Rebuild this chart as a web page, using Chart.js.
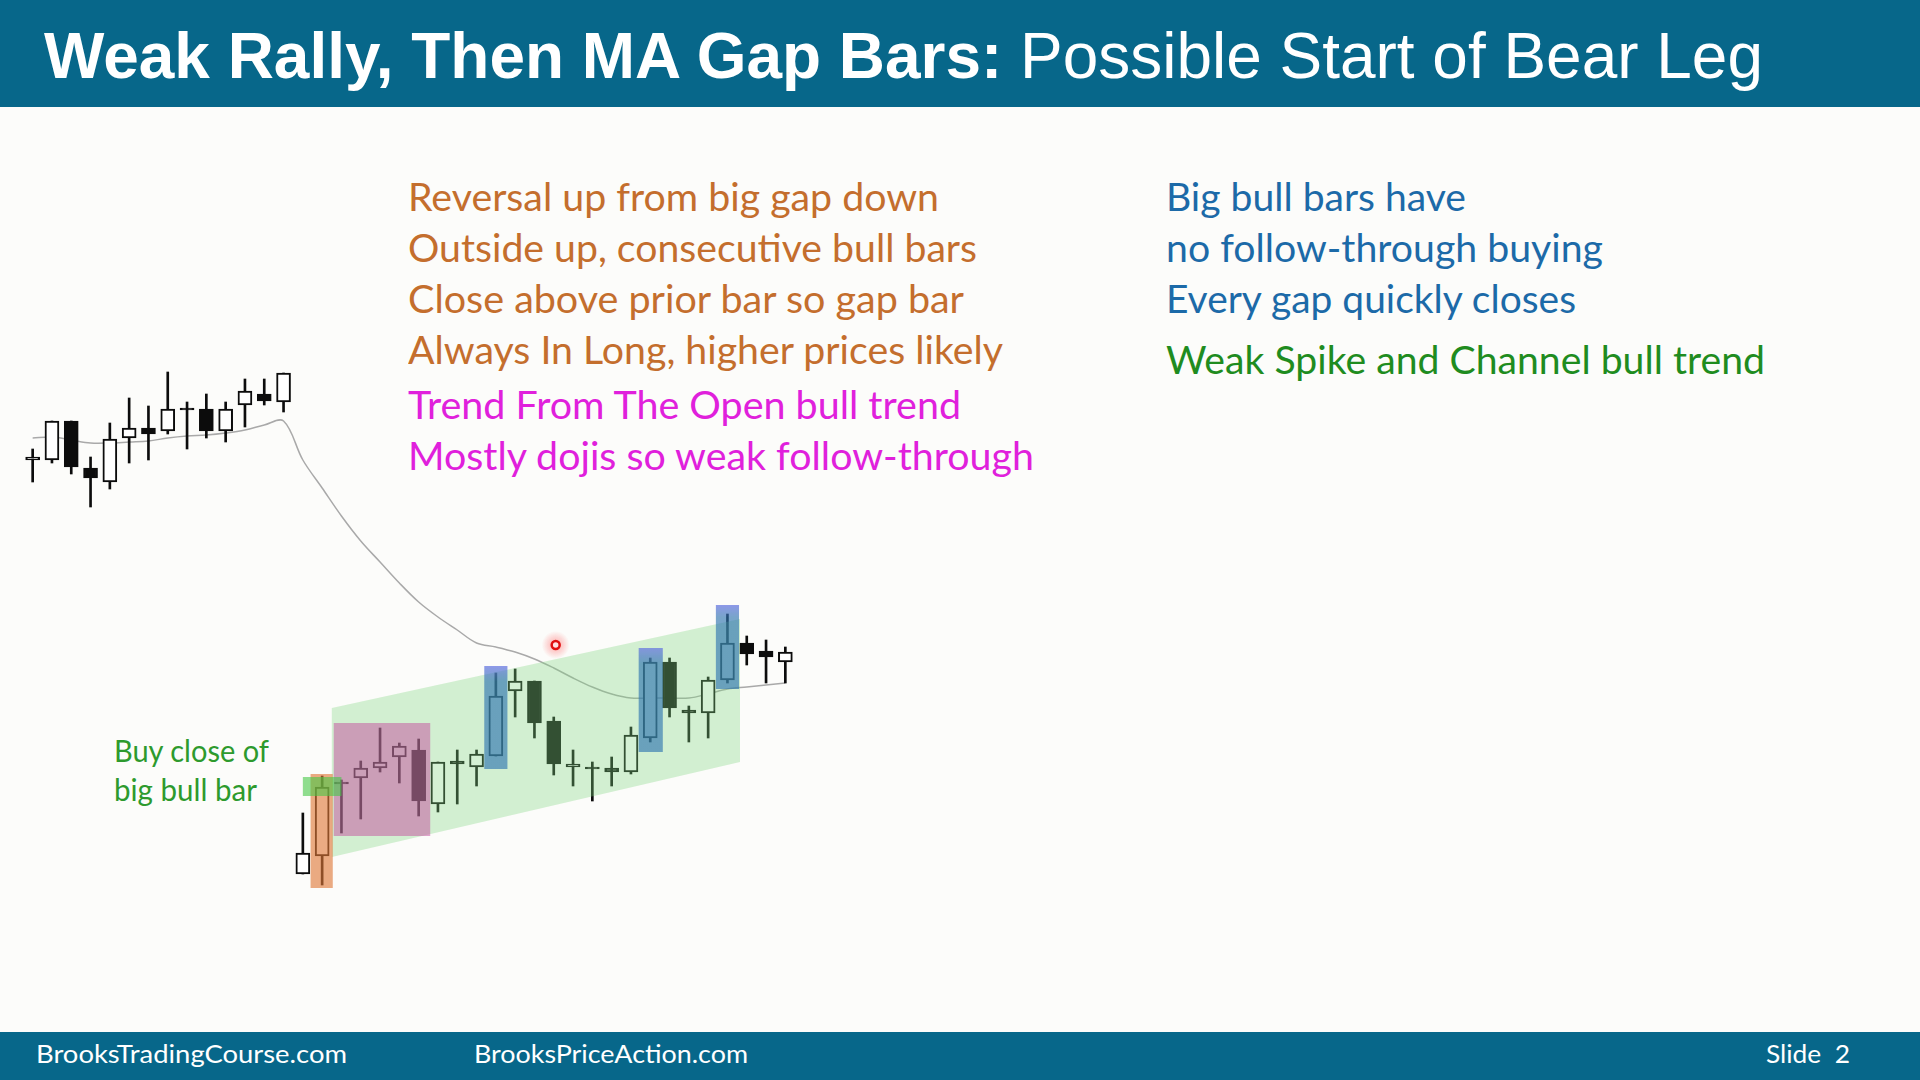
<!DOCTYPE html>
<html>
<head>
<meta charset="utf-8">
<script src="https://cdn.jsdelivr.net/npm/chart.js@4.4.1/dist/chart.umd.min.js"></script>
<style>
  html, body { margin: 0; padding: 0; }
  body { width: 1920px; height: 1080px; position: relative; overflow: hidden; background: #fcfcfa; font-family: Lato, "Open Sans", sans-serif; }
  #header { position: absolute; left: 0; top: 0; width: 1920px; height: 107px; background: #07678a; }
  #footer { position: absolute; left: 0; top: 1032px; width: 1920px; height: 48px; background: #07678a; }
  .t { position: absolute; white-space: pre; line-height: 1; transform-origin: 0 0; }
  #title { font-family: "Liberation Sans", Arial, sans-serif; font-size: 65px; color: #fff; left: 44px; top: 23px; }
  .line { font-size: 39px; }
  .orange { color: #c46e2d; }
  .magenta { color: #e020dc; }
  .blue { color: #1c6aa8; }
  .green { color: #1f8c1f; }
  .buy { font-size: 31px; color: #2d9a2d; }
  .foot { font-size: 25px; color: #fff; }
  #chartBox { position: absolute; left: 23px; top: 300px; width: 772px; height: 600px; }
</style>
</head>
<body>
<div id="header"></div>
<div id="footer"></div>

<div id="title" class="t" data-w="1719"><b>Weak Rally, Then MA Gap Bars:</b> Possible Start of Bear Leg</div>

<div class="t line orange" style="left:408px; top:177px" data-w="531">Reversal up from big gap down</div>
<div class="t line orange" style="left:408px; top:228px" data-w="569">Outside up, consecutive bull bars</div>
<div class="t line orange" style="left:408px; top:279px" data-w="556">Close above prior bar so gap bar</div>
<div class="t line orange" style="left:408px; top:330px" data-w="595">Always In Long, higher prices likely</div>
<div class="t line magenta" style="left:408px; top:385px" data-w="553">Trend From The Open bull trend</div>
<div class="t line magenta" style="left:408px; top:436px" data-w="626">Mostly dojis so weak follow-through</div>

<div class="t line blue" style="left:1166px; top:177px" data-w="300">Big bull bars have</div>
<div class="t line blue" style="left:1166px; top:228px" data-w="437">no follow-through buying</div>
<div class="t line blue" style="left:1166px; top:279px" data-w="410">Every gap quickly closes</div>
<div class="t line green" style="left:1166px; top:340px" data-w="599">Weak Spike and Channel bull trend</div>

<div class="t buy" style="left:114px; top:735px" data-w="155">Buy close of</div>
<div class="t buy" style="left:114px; top:774px" data-w="143">big bull bar</div>

<div class="t foot" style="left:36px; top:1041px" data-w="311">BrooksTradingCourse.com</div>
<div class="t foot" style="left:474px; top:1041px" data-w="274">BrooksPriceAction.com</div>
<div class="t foot" style="left:1766px; top:1041px" data-w="84">Slide  2</div>

<div id="chartBox"><canvas id="candles"></canvas></div>

<script>
// last 14 bars of yesterday, then the first 26 bars of today (5 min)
const barLabels = [
  "68", "69", "70", "71", "72", "73", "74", "75", "76", "77", "78", "79", "80", "81",
  "1", "2", "3", "4", "5", "6", "7", "8", "9", "10", "11", "12", "13",
  "14", "15", "16", "17", "18", "19", "20", "21", "22", "23", "24", "25", "26"
];

const opens = [
  540, 540, 579, 532, 518, 562, 572, 569, 591, 591, 569, 595, 606, 598,
  126, 144, 217, 222, 232, 243, 250, 196, 239, 233, 244, 309, 319,
  279, 233, 232, 232, 228, 262, 338, 290, 287, 320, 357, 349, 338
];
const highs = [
  551, 579, 579, 543, 577, 602, 594, 628, 598, 606, 598, 621, 621, 627,
  187, 224, 220, 239, 272, 257, 261, 238, 250, 250, 327, 331, 319,
  283, 250, 238, 243, 273, 342, 342, 294, 323, 386, 364, 360, 353
];
const lows = [
  518, 537, 526, 493, 511, 537, 540, 566, 551, 562, 558, 573, 595, 588,
  126, 115, 167, 181, 228, 217, 184, 188, 196, 214, 244, 283, 262,
  225, 214, 199, 214, 226, 258, 283, 258, 262, 317, 335, 317, 317
];
const closes = [
  543, 579, 533, 522, 561, 572, 566, 591, 591, 569, 591, 609, 599, 627,
  147, 213, 217, 232, 238, 254, 199, 238, 236, 246, 304, 319, 277,
  236, 236, 232, 228, 265, 338, 292, 287, 320, 357, 346, 343, 348
];
// 20 bar EMA
const maValues = [
  562, 563, 560, 557, 557, 558, 559, 562, 564, 565, 567, 570, 575, 579,
  540, 512, 484, 459, 438, 417, 398, 383, 370, 357, 353, 348, 341,
  332, 322, 313, 306, 302, 302, 302, 302, 306, 311, 313, 315, 317
];

// marks drawn on the chart, in bar index / price
const channel = [[15.5, 292], [36.65, 381], [36.65, 238], [15.5, 143]];
const boxes = [
  { kind: "spike", from: 14.4, to: 15.55, high: 226, low: 112 },
  { kind: "pullback", from: 15.6, to: 20.6, high: 277, low: 164 },
  { kind: "gap", from: 23.4, to: 24.6, high: 334, low: 231 },
  { kind: "gap", from: 31.4, to: 32.65, high: 352, low: 248 },
  { kind: "gap", from: 35.4, to: 36.6, high: 395, low: 311 },
  { kind: "entry", from: 14.0, to: 16.0, high: 223, low: 204 }
];
const cursorDot = { bar: 27.1, price: 355 };

const boxColors = {
  spike: "rgba(222,120,55,0.62)",
  pullback: "rgba(195,70,155,0.48)",
  entry: "rgba(70,200,70,0.6)"
};

const bodies = opens.map((o, i) => {
  const c = closes[i];
  if (o === c) return [o - 0.8, o + 0.8];
  return [Math.min(o, c), Math.max(o, c)];
});
const bodyColors = opens.map((o, i) => (closes[i] > o ? "#ffffff" : "#0c0c0c"));

const overlays = {
  id: "overlays",
  afterDatasetsDraw(chart) {
    const { ctx, scales: { x, y } } = chart;
    ctx.save();

    ctx.beginPath();
    channel.forEach(([b, p], i) => {
      const px = x.getPixelForValue(b), py = y.getPixelForValue(p);
      i ? ctx.lineTo(px, py) : ctx.moveTo(px, py);
    });
    ctx.closePath();
    ctx.fillStyle = "rgba(130,215,130,0.34)";
    ctx.fill();

    boxes.forEach((b) => {
      const x0 = x.getPixelForValue(b.from), x1 = x.getPixelForValue(b.to);
      const y0 = y.getPixelForValue(b.high), y1 = y.getPixelForValue(b.low);
      if (b.kind === "gap") {
        const g = ctx.createLinearGradient(0, y0, 0, y1);
        g.addColorStop(0, "rgba(100,115,225,0.72)");
        g.addColorStop(0.15, "rgba(45,115,175,0.64)");
        g.addColorStop(1, "rgba(45,115,175,0.64)");
        ctx.fillStyle = g;
      } else {
        ctx.fillStyle = boxColors[b.kind];
      }
      ctx.fillRect(x0, y0, x1 - x0, y1 - y0);
    });

    const cx = x.getPixelForValue(cursorDot.bar), cy = y.getPixelForValue(cursorDot.price);
    const glow = ctx.createRadialGradient(cx, cy, 2, cx, cy, 14);
    glow.addColorStop(0, "rgba(255,90,90,0.45)");
    glow.addColorStop(1, "rgba(255,90,90,0)");
    ctx.fillStyle = glow;
    ctx.beginPath();
    ctx.arc(cx, cy, 14, 0, Math.PI * 2);
    ctx.fill();
    ctx.beginPath();
    ctx.arc(cx, cy, 4, 0, Math.PI * 2);
    ctx.fillStyle = "#ffe0e0";
    ctx.fill();
    ctx.lineWidth = 2.5;
    ctx.strokeStyle = "#e01010";
    ctx.stroke();

    ctx.restore();
  }
};

new Chart(document.getElementById("candles"), {
  data: {
    labels: barLabels,
    datasets: [
      {
        type: "line",
        label: "EMA",
        data: maValues,
        borderColor: "#a9a9a9",
        borderWidth: 1.5,
        pointRadius: 0,
        tension: 0.35,
        order: 3
      },
      {
        type: "bar",
        label: "wicks",
        data: lows.map((l, i) => [l, highs[i]]),
        backgroundColor: "#0c0c0c",
        barThickness: 2,
        grouped: false,
        order: 2
      },
      {
        type: "bar",
        label: "bodies",
        data: bodies,
        backgroundColor: bodyColors,
        borderColor: "#0c0c0c",
        borderWidth: 2,
        borderSkipped: false,
        barThickness: 14,
        grouped: false,
        order: 1
      }
    ]
  },
  options: {
    animation: false,
    responsive: true,
    maintainAspectRatio: false,
    layout: { padding: 0 },
    plugins: { legend: { display: false }, tooltip: { enabled: false } },
    scales: {
      x: { display: false },
      y: { display: false, min: 100, max: 700 }
    }
  },
  plugins: [overlays]
});

// squeeze each text line to the width it has on the slide
const fitText = () => {
  document.querySelectorAll("[data-w]").forEach((el) => {
    const w = el.getBoundingClientRect().width;
    el.style.transform = "scaleX(" + (parseFloat(el.dataset.w) / w) + ")";
  });
};
if (document.fonts && document.fonts.ready) {
  document.fonts.ready.then(fitText);
} else {
  fitText();
}
</script>
</body>
</html>
